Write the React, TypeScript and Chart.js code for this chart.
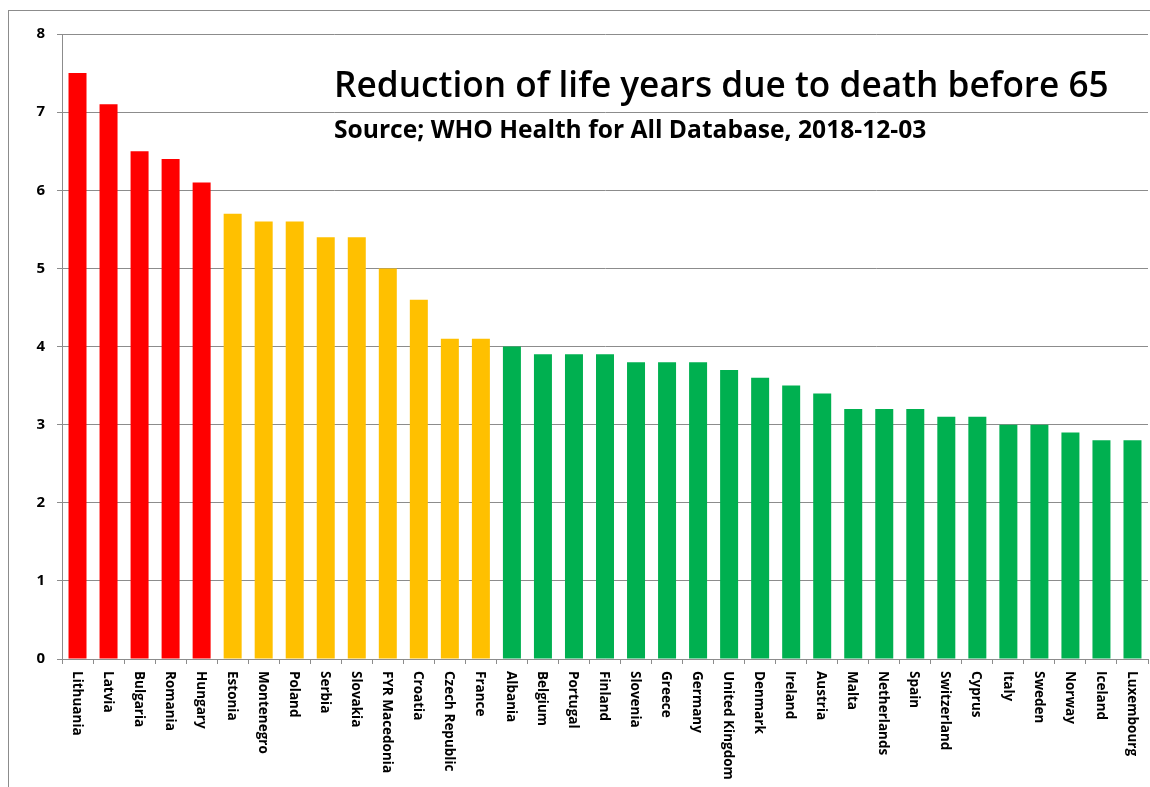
import React, { useEffect, useRef } from "react";
import { Chart, registerables } from "chart.js";

Chart.register(...registerables);

const countries = [
  "Lithuania", "Latvia", "Bulgaria", "Romania", "Hungary",
  "Estonia", "Montenegro", "Poland", "Serbia", "Slovakia", "FYR Macedonia", "Croatia", "Czech Republic", "France",
  "Albania", "Belgium", "Portugal", "Finland", "Slovenia", "Greece", "Germany", "United Kingdom", "Denmark",
  "Ireland", "Austria", "Malta", "Netherlands", "Spain", "Switzerland", "Cyprus", "Italy", "Sweden", "Norway",
  "Iceland", "Luxembourg",
];

const lostYears = [
  7.5, 7.1, 6.5, 6.4, 6.1,
  5.7, 5.6, 5.6, 5.4, 5.4, 5.0, 4.6, 4.1, 4.1,
  4.0, 3.9, 3.9, 3.9, 3.8, 3.8, 3.8, 3.7, 3.6,
  3.5, 3.4, 3.2, 3.2, 3.2, 3.1, 3.1, 3.0, 3.0, 2.9,
  2.8, 2.8,
];

// group of each country: 0 = high (red), 1 = middle (amber), 2 = low (green)
const groups = [
  0, 0, 0, 0, 0,
  1, 1, 1, 1, 1, 1, 1, 1, 1,
  2, 2, 2, 2, 2, 2, 2, 2, 2,
  2, 2, 2, 2, 2, 2, 2, 2, 2, 2,
  2, 2,
];

const groupColors = ["#FF0000", "#FFC000", "#00B050"];

const yTicks = [0, 1, 2, 3, 4, 5, 6, 7, 8];

const titleText = "Reduction of life years due to death before 65";
const subtitleText = "Source; WHO Health for All Database, 2018-12-03";

const GRID = "#8c8c8c";

export default function App() {
  const ref = useRef<HTMLCanvasElement | null>(null);

  useEffect(() => {
    if (!ref.current) return;

    const decor = {
      id: "decor",
      beforeDraw(chart: any) {
        const ctx = chart.ctx;
        ctx.save();
        ctx.fillStyle = "#ffffff";
        ctx.fillRect(0, 0, chart.width, chart.height);
        ctx.strokeStyle = GRID;
        ctx.lineWidth = 1;
        ctx.strokeRect(8.5, 10.5, 1300, 900);
        ctx.restore();
      },
      afterDraw(chart: any) {
        const ctx = chart.ctx;
        const xs = chart.scales.x;
        const area = chart.chartArea;
        ctx.save();
        ctx.fillStyle = "#000000";
        ctx.font = "bold 13.5px 'Open Sans'";
        ctx.textAlign = "left";
        ctx.textBaseline = "middle";
        countries.forEach((c, i) => {
          const x = xs.getPixelForValue(i);
          ctx.save();
          ctx.translate(x - 1, area.bottom + 12);
          ctx.rotate(Math.PI / 2);
          ctx.fillText(c, 0, 0);
          ctx.restore();
        });
        ctx.textBaseline = "alphabetic";
        ctx.font = "600 35.2px 'Open Sans'";
        ctx.fillText(titleText, 334, 97);
        ctx.font = "bold 24.6px 'Open Sans'";
        ctx.fillText(subtitleText, 334, 138);
        ctx.restore();
      },
    };

    const chart = new Chart(ref.current, {
      type: "bar",
      data: {
        labels: countries,
        datasets: [
          {
            data: lostYears,
            backgroundColor: groups.map((g) => groupColors[g]),
            borderWidth: 0,
            categoryPercentage: 1,
            barPercentage: 0.58,
          },
        ],
      },
      options: {
        responsive: false,
        animation: false,
        layout: { padding: { left: 0, top: 34, right: 2, bottom: 0 } },
        plugins: {
          legend: { display: false },
          tooltip: { enabled: false },
          title: { display: false },
        },
        scales: {
          x: {
            grid: {
              display: true,
              drawOnChartArea: false,
              drawTicks: true,
              tickLength: 5,
              color: GRID,
              offset: true,
            },
            border: { display: true, color: GRID },
            ticks: { display: false },
            afterFit: (s: any) => {
              s.height = 128;
            },
          },
          y: {
            min: 0,
            max: 8,
            afterBuildTicks: (s: any) => {
              s.ticks = yTicks.map((v) => ({ value: v }));
            },
            grid: { color: GRID, tickLength: 5 },
            border: { display: true, color: GRID },
            ticks: {
              color: "#000000",
              padding: 12,
              font: { family: "'Open Sans'", size: 15, weight: "bold" },
            },
            afterFit: (s: any) => {
              s.width = 62;
            },
          },
        },
      },
      plugins: [decor],
    });

    return () => chart.destroy();
  }, []);

  return (
    <div style={{ position: "fixed", left: 0, top: 0, width: 1150, height: 787 }}>
      <canvas ref={ref} width={1150} height={787} />
    </div>
  );
}
